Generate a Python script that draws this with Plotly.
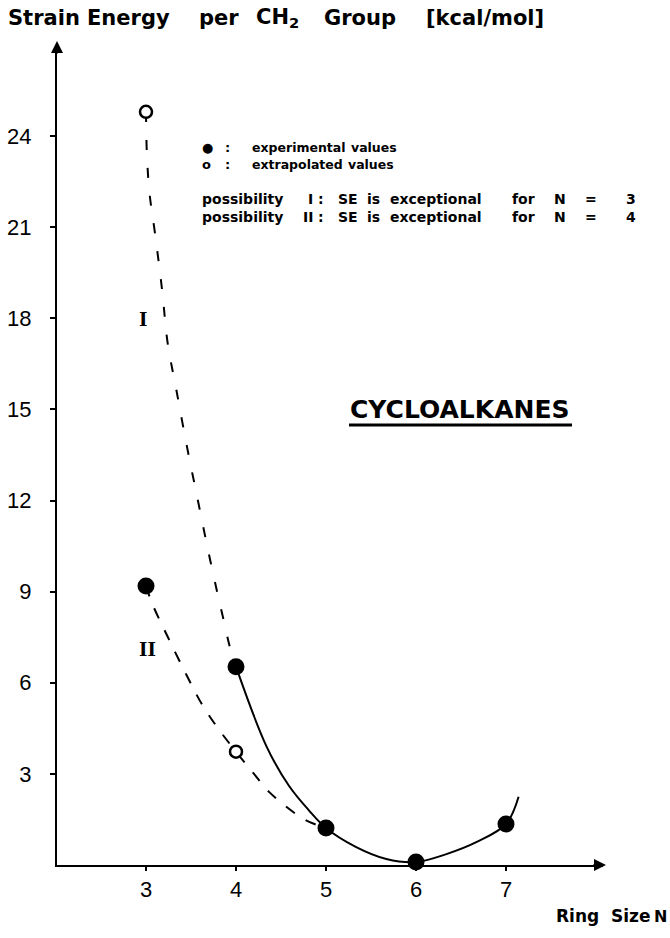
import plotly.graph_objects as go

# ---------------- data ----------------
ring_exp = [3, 4, 5, 6, 7]                 # experimental values (filled)
se_exp = [9.19, 6.53, 1.22, 0.10, 1.35]

ring_extra = [3, 4]                        # extrapolated values (open)
se_extra = [24.8, 3.73]

# possibility I (dashed part, N=3 exceptional)
curve1_x = [3.00, 3.01, 3.04, 3.10, 3.18, 3.24, 3.34, 3.46, 3.57, 3.68, 3.79, 3.86, 3.93, 4.00]
curve1_y = [24.8, 23.4, 22.1, 20.8, 18.9, 17.2, 15.6, 13.7, 12.1, 10.5, 9.0, 8.1, 7.2, 6.53]

# possibility II (dashed, N=4 exceptional)
curve2_x = [3.00, 3.07, 3.26, 3.46, 3.62, 3.80, 4.00, 4.20, 4.37, 4.76, 5.00]
curve2_y = [9.19, 8.6, 7.4, 6.2, 5.3, 4.5, 3.73, 3.0, 2.4, 1.5, 1.22]

# common solid curve
curve_s_x = [4.00, 4.34, 4.59, 4.81, 5.00, 5.33, 5.67, 6.00, 6.33, 6.67, 7.00, 7.14]
curve_s_y = [6.53, 3.90, 2.60, 1.80, 1.22, 0.60, 0.20, 0.10, 0.35, 0.75, 1.35, 2.25]

x_ticks = [3, 4, 5, 6, 7]
y_ticks = [3, 6, 9, 12, 15, 18, 21, 24]


# ---------------- placement helpers (reference pixels) ----------------
def X(px):
    return 3 + (px - 146) / 90.0


def Y(py):
    return (865 - py) / 30.37


def PX(px):   # paper x (plot area spans px 57..603)
    return (px - 57) / 546.0


def PY(py):   # paper y (plot area spans py 865..45)
    return (865 - py) / 820.0


BOLD = "DejaVu Sans, Liberation Sans, sans-serif"
SERIF = "DejaVu Serif, Liberation Serif, serif"
TICKF = "Liberation Sans, Arial, sans-serif"

fig = go.Figure()

fig.add_trace(go.Scatter(x=curve1_x, y=curve1_y, mode="lines", line_shape="spline",
                         line=dict(color="black", width=2, dash="10px,18px"),
                         hoverinfo="skip", cliponaxis=False))
fig.add_trace(go.Scatter(x=curve2_x, y=curve2_y, mode="lines", line_shape="spline",
                         line=dict(color="black", width=2, dash="11px,13px"),
                         hoverinfo="skip", cliponaxis=False))
fig.add_trace(go.Scatter(x=curve_s_x, y=curve_s_y, mode="lines", line_shape="spline",
                         line=dict(color="black", width=2),
                         hoverinfo="skip", cliponaxis=False))
fig.add_trace(go.Scatter(x=ring_extra, y=se_extra, mode="markers",
                         marker=dict(symbol="circle", size=12, color="white",
                                     line=dict(color="black", width=2.5)),
                         cliponaxis=False))
fig.add_trace(go.Scatter(x=ring_exp, y=se_exp, mode="markers",
                         marker=dict(symbol="circle", size=17, color="black"),
                         cliponaxis=False))

annotations = []
# axis arrowheads
annotations.append(dict(x=PX(606), y=PY(865), xref="paper", yref="paper", ax=-14, ay=0,
                        showarrow=True, arrowhead=2, arrowsize=1.2, arrowwidth=2,
                        arrowcolor="black", text=""))
annotations.append(dict(x=PX(57), y=PY(41), xref="paper", yref="paper", ax=0, ay=14,
                        showarrow=True, arrowhead=2, arrowsize=1.2, arrowwidth=2,
                        arrowcolor="black", text=""))


def word(px, py, txt, size, anchor="left", family=BOLD, bold=True):
    annotations.append(dict(x=PX(px), y=PY(py), xref="paper", yref="paper", xanchor=anchor,
                            yanchor="middle", showarrow=False, borderpad=0, borderwidth=0,
                            text=("<b>%s</b>" % txt) if bold else txt,
                            font=dict(family=family, size=size, color="black")))


# title (words placed as in the reference, with its wide spacing)
TS = 21
word(8, 18, "Strain", TS)
word(87, 18, "Energy", TS)
word(199, 18, "per", TS)
word(256, 18, "CH<sub>2</sub>", TS)
word(324, 18, "Group", TS)
word(426, 18, "[kcal/mol]", TS)

# x axis label
word(556, 916, "Ring", 17)
word(611, 916, "Size", 17)
word(654, 916, "N", 16)

# key: symbols
K1 = 12.5
for py, sym, w1, x2 in [(147, "\u25cf", "experimental", 351),
                        (164, "o", "extrapolated", 348)]:
    word(202, py, sym, 13)
    word(227, py, ":", 13, "center")
    word(252, py, w1, K1)
    word(x2, py, "values", K1)

# key: possibilities
K2 = 14
for py, roman, num in [(199, "I", "3"), (217, "II", "4")]:
    word(202, py, "possibility", K2)
    word(313, py, roman, K2, "right")
    word(321, py, ":", K2, "center")
    word(338, py, "SE", K2)
    word(367, py, "is", K2)
    word(390, py, "exceptional", K2)
    word(512, py, "for", K2)
    word(554, py, "N", K2)
    word(585, py, "=", K2)
    word(626, py, num, K2)

# curve labels
word(143, 320, "I", 18, "center", SERIF, bold=True)
word(147, 649, "II", 18, "center", SERIF, bold=True)

# label inside plot
word(460, 410, "CYCLOALKANES", 25, "center")

shapes = [dict(type="line", xref="paper", yref="paper", x0=PX(349), x1=PX(572),
               y0=PY(425), y1=PY(425), line=dict(color="black", width=3))]

fig.update_layout(
    width=670, height=938, autosize=False,
    margin=dict(l=57, r=67, t=45, b=73),
    paper_bgcolor="white", plot_bgcolor="white",
    showlegend=False,
    annotations=annotations,
    shapes=shapes,
    xaxis=dict(range=[X(57), X(603)], tickvals=x_ticks, ticktext=[str(v) for v in x_ticks],
               showgrid=False, zeroline=False, showline=True, linecolor="black", linewidth=2,
               ticks="outside", ticklen=4, tickwidth=2, tickcolor="black", automargin=False,
               tickfont=dict(family=TICKF, size=22, color="black"),
               ticklabelstandoff=0),
    yaxis=dict(range=[Y(865), Y(45)], tickvals=y_ticks, ticktext=[str(v) for v in y_ticks],
               showgrid=False, zeroline=False, showline=True, linecolor="black", linewidth=2,
               ticks="outside", ticklen=5, tickwidth=2, tickcolor="black", automargin=False,
               tickfont=dict(family=TICKF, size=22, color="black"),
               ticklabelstandoff=14),
)

fig.write_html("out.html", config={"displayModeBar": False},
               post_script="document.body.style.margin='0';")
